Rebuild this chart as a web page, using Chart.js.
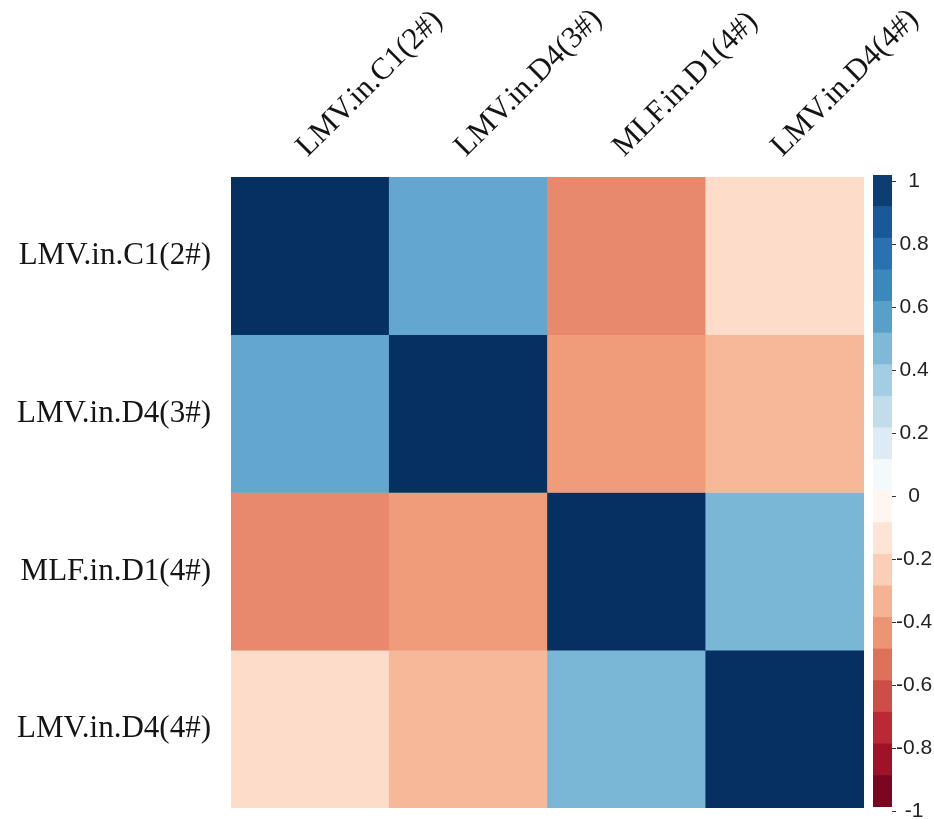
<!DOCTYPE html>
<html>
<head>
<meta charset="utf-8">
<script src="https://cdn.jsdelivr.net/npm/chart.js@4.4.1/dist/chart.umd.min.js"></script>
<style>
  html, body { margin: 0; padding: 0; background: #fff; }
  #wrap { position: relative; width: 934px; height: 819px; overflow: hidden; }
  #heat { position: absolute; left: 0; top: 0; }
  #barra { position: absolute; left: 864px; top: 0; }
</style>
</head>
<body>
<div id="wrap">
  <canvas id="heat" width="934" height="819"></canvas>
  <canvas id="barra" width="70" height="819"></canvas>
</div>
<script>
// variáveis (linhas e colunas da matriz)
const variaveis = ["LMV.in.C1(2#)", "LMV.in.D4(3#)", "MLF.in.D1(4#)", "LMV.in.D4(4#)"];

// correlações, uma linha por variável
const linha1 = [1, 0.52, -0.48, -0.19];
const linha2 = [0.52, 1, -0.43, -0.33];
const linha3 = [-0.48, -0.43, 1, 0.46];
const linha4 = [-0.19, -0.33, 0.46, 1];
const correlacoes = [linha1, linha2, linha3, linha4];

// legenda de cores
const escalaTicks = [1, 0.8, 0.6, 0.4, 0.2, 0, -0.2, -0.4, -0.6, -0.8, -1];
const legendaCortes = [-1, -0.9, -0.8, -0.7, -0.6, -0.5, -0.4, -0.3, -0.2, -0.1, 0,
                       0.1, 0.2, 0.3, 0.4, 0.5, 0.6, 0.7, 0.8, 0.9, 1];

const paleta = ["#67001F", "#B2182B", "#D6604D", "#F4A582", "#FDDBC7", "#FFFFFF",
                "#D1E5F0", "#92C5DE", "#4393C3", "#2166AC", "#053061"];

function hexRgb(h) {
    return [1, 3, 5].map(i => parseInt(h.slice(i, i + 2), 16));
}

function corPara(v) {
    const pos = (Math.max(-1, Math.min(1, v)) + 1) / 0.2;
    const i = Math.min(Math.floor(pos), paleta.length - 2);
    const t = pos - i;
    const a = hexRgb(paleta[i]);
    const b = hexRgb(paleta[i + 1]);
    const c = a.map((x, k) => Math.round(x + (b[k] - x) * t));
    return `rgb(${c[0]}, ${c[1]}, ${c[2]})`;
}

const fonteSerif = { family: "'Liberation Serif', 'Times New Roman', serif", size: 31 };

new Chart(document.getElementById("heat"), {
    type: "bar",
    data: {
        labels: variaveis,
        datasets: correlacoes.map((linha, r) => ({
            label: variaveis[r],
            data: linha.map(() => [r, r + 1]),
            backgroundColor: linha.map(corPara),
            borderWidth: 0,
            grouped: false,
            barPercentage: 1,
            categoryPercentage: 1
        }))
    },
    options: {
        responsive: false,
        animation: false,
        layout: { padding: { left: 0, top: 0, right: 70, bottom: 11 } },
        plugins: { legend: { display: false }, tooltip: { enabled: false } },
        scales: {
            x: {
                position: "top",
                grid: { display: false, drawTicks: false },
                border: { display: false },
                ticks: {
                    minRotation: 45, maxRotation: 45, autoSkip: false,
                    padding: 12, labelOffset: 18,
                    color: "#151515", font: fonteSerif
                },
                afterFit: s => { s.height = 177; s.paddingLeft = 0; s.paddingRight = 0; }
            },
            y: {
                min: 0, max: 4, reverse: true,
                grid: { display: false, drawTicks: false },
                border: { display: false },
                afterBuildTicks: s => { s.ticks = variaveis.map((_, i) => ({ value: i + 0.5 })); },
                ticks: {
                    padding: 20, autoSkip: false,
                    color: "#151515", font: fonteSerif,
                    callback: v => variaveis[Math.floor(v)]
                },
                afterFit: s => { s.width = 231; s.paddingTop = 0; s.paddingBottom = 0; }
            }
        }
    }
});

// barra de cores à direita
new Chart(document.getElementById("barra"), {
    type: "bar",
    data: {
        labels: [""],
        datasets: legendaCortes.slice(0, -1).map((lo, i) => ({
            data: [[lo, legendaCortes[i + 1]]],
            backgroundColor: corPara((lo + legendaCortes[i + 1]) / 2),
            borderWidth: 0,
            grouped: false,
            barPercentage: 1,
            categoryPercentage: 1,
            yAxisID: "y"
        }))
    },
    options: {
        responsive: false,
        animation: false,
        layout: { padding: { left: 9, top: 175, right: 0, bottom: 12 } },
        plugins: { legend: { display: false }, tooltip: { enabled: false } },
        scales: {
            x: { display: false },
            y: { display: false, min: -1, max: 1 },
            yt: {
                position: "right",
                min: -0.986, max: 1.021,
                grid: { drawOnChartArea: false, drawTicks: true, tickLength: 4, color: "#333" },
                border: { display: false },
                afterBuildTicks: s => { s.ticks = escalaTicks.map(v => ({ value: v })); },
                ticks: {
                    padding: 0, autoSkip: false, crossAlign: "center",
                    color: "#222",
                    font: { family: "'Liberation Sans', Arial, sans-serif", size: 21 },
                    callback: v => String(v)
                },
                afterFit: s => { s.width = 42; s.paddingTop = 0; s.paddingBottom = 0; }
            }
        }
    }
});
</script>
</body>
</html>
